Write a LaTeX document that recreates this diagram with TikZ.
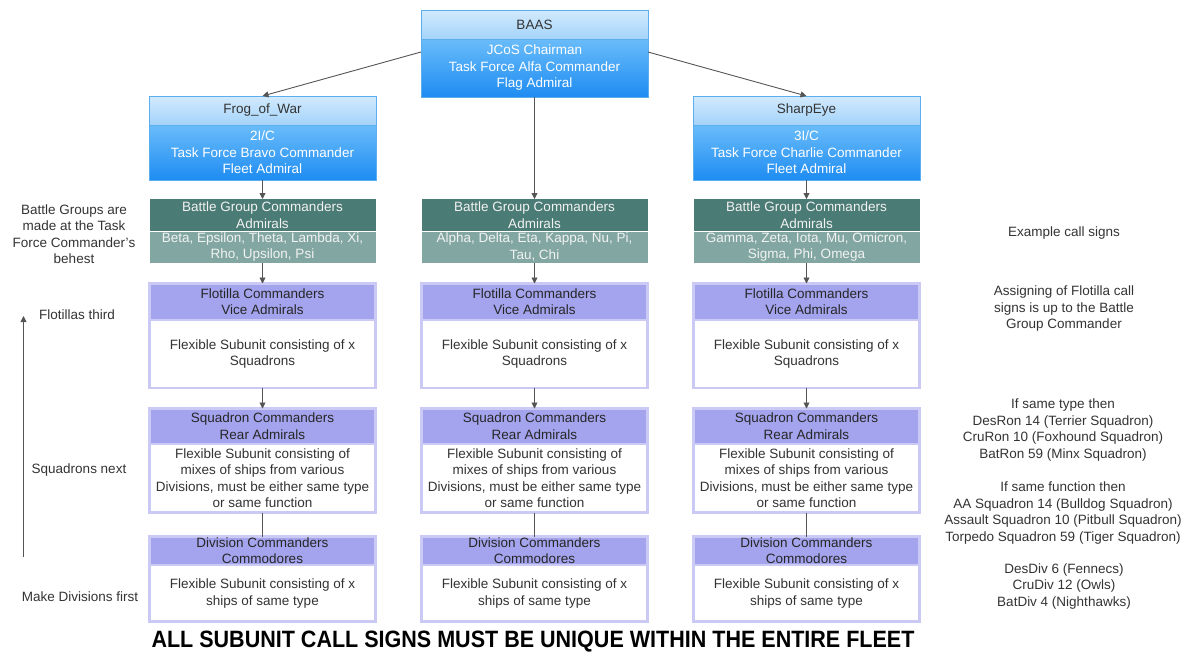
\documentclass[tikz,border=0pt]{standalone}
\usepackage{fontspec}
\setmainfont{Liberation Sans}
\usepackage{graphicx}
\usetikzlibrary{arrows.meta}
\definecolor{hdrtop}{HTML}{D2EAFD}
\definecolor{hdrbot}{HTML}{A4D3FA}
\definecolor{bodytop}{HTML}{6ABCFA}
\definecolor{bodybot}{HTML}{1E8CF2}
\definecolor{blueborder}{HTML}{5AAEEE}
\definecolor{bgdark}{HTML}{4B7B75}
\definecolor{bglight}{HTML}{82A7A2}
\definecolor{lavhdr}{HTML}{A4A4EE}
\definecolor{lavborder}{HTML}{CACAF4}
\definecolor{txt}{HTML}{333333}
\definecolor{arrowc}{HTML}{555555}
\begin{document}
\begin{tikzpicture}[x=1pt,y=-1pt,
  base/.style={inner sep=0pt, outer sep=0pt, align=center, anchor=north,
    font=\fontsize{13.5}{16.5}\selectfont},
  tophdr/.style={base, minimum width=227pt, minimum height=29pt,
    top color=hdrtop, bottom color=hdrbot, draw=blueborder, text=txt},
  topbody/.style={base, minimum width=227pt, top color=bodytop,
    bottom color=bodybot, draw=blueborder, text=white},
  bgd/.style={base, minimum width=226pt, minimum height=32pt, fill=bgdark, text=white!95!black},
  bgl/.style={base, minimum width=226pt, minimum height=32pt, fill=bglight, text=white!95!black},
  lavh/.style={base, minimum width=226pt, fill=lavhdr, draw=lavborder, line width=2.5pt, text=black!85},
  lavb/.style={base, minimum width=226pt, fill=white, draw=lavborder, line width=2.5pt, text=txt},
  note/.style={inner sep=0pt, align=center, text=txt, font=\fontsize{13.5}{16.5}\selectfont},
  arr/.style={draw=arrowc, line width=0.9pt, -{Triangle[length=6pt,width=6pt]}},
  plain/.style={draw=arrowc, line width=0.9pt}
]
\useasboundingbox (0,0) rectangle (1189,657);

% ---------- top level ----------
\node[topbody, minimum height=58pt] (baasb) at (534.5,39) {JCoS Chairman\\Task Force Alfa Commander\\Flag Admiral};
\node[tophdr] (baash) at (534.5,10) {BAAS};

\node[topbody, minimum height=55pt] (frogb) at (262.5,125) {2I/C\\Task Force Bravo Commander\\Fleet Admiral};
\node[tophdr] (frogh) at (262.5,96) {Frog\_of\_War};

\node[topbody, minimum height=55pt] (sharpb) at (806.5,125) {3I/C\\Task Force Charlie Commander\\Fleet Admiral};
\node[tophdr] (sharph) at (806.5,96) {SharpEye};

% ---------- battle groups ----------
\node[bgd] (bgd1) at (262.5,199) {Battle Group Commanders\\Admirals};
\node[bgl] (bgl1) at (262.5,231) {Beta, Epsilon, Theta, Lambda, Xi,\\Rho, Upsilon, Psi};
\node[bgd] (bgd2) at (534.5,199) {Battle Group Commanders\\Admirals};
\node[bgl] (bgl2) at (534.5,231) {Alpha, Delta, Eta, Kappa, Nu, Pi,\\Tau, Chi};
\node[bgd] (bgd3) at (806.5,199) {Battle Group Commanders\\Admirals};
\node[bgl] (bgl3) at (806.5,231) {Gamma, Zeta, Iota, Mu, Omicron,\\Sigma, Phi, Omega};
\draw[white, line width=0.8pt] (bgl1.north west) -- (bgl1.north east);
\draw[white, line width=0.8pt] (bgl2.north west) -- (bgl2.north east);
\draw[white, line width=0.8pt] (bgl3.north west) -- (bgl3.north east);

% ---------- flotilla / squadron / division ----------
\foreach \i/\c in {1/262.5, 2/534.5, 3/806.5}{
  \node[lavb, minimum height=68pt] (flob\i) at (\c,320) {Flexible Subunit consisting of x\\Squadrons};
  \node[lavh, minimum height=36.5pt] (floh\i) at (\c,283.5) {Flotilla Commanders\\Vice Admirals};
  \node[lavb, minimum height=68.5pt] (sqb\i) at (\c,444) {Flexible Subunit consisting of\\mixes of ships from various\\Divisions, must be either same type\\or same function};
  \node[lavh, minimum height=35.5pt] (sqh\i) at (\c,408.5) {Squadron Commanders\\Rear Admirals};
  \node[lavb, minimum height=56.5pt] (divb\i) at (\c,565) {Flexible Subunit consisting of x\\ships of same type};
  \node[lavh, minimum height=28.5pt, font=\fontsize{13.5}{15.5}\selectfont] (divh\i) at (\c,536.5) {Division Commanders\\Commodores};
  \draw[arr] (bgl\i.south) -- (floh\i.north);
  \draw[arr] (flob\i.south) -- (sqh\i.north);
  \draw[plain] (sqb\i.south) -- (divh\i.north);
}

% ---------- connectors ----------
\draw[arr] ([yshift=-13pt]baasb.north west) -- (frogh.north);
\draw[arr] ([yshift=-13pt]baasb.north east) -- (sharph.north);
\draw[arr] (baasb.south) -- (bgd2.north);
\draw[arr] (frogb.south) -- (bgd1.north);
\draw[arr] (sharpb.south) -- (bgd3.north);

% ---------- left notes ----------
\node[note] (nbg) at (74,234) {Battle Groups are\\made at the Task\\Force Commander's\\behest};
\node[note] (nflo) at (77,315) {Flotillas third};
\node[note] (nsq) at (79,470) {Squadrons next};
\node[note] (ndiv) at (80,597) {Make Divisions first};
\coordinate (lvs) at (23.5,557);
\coordinate (lve) at (23.5,316);
\draw[arr] (lvs) -- (lve);

% ---------- right notes ----------
\node[note] (nex) at (1064,233) {Example call signs};
\node[note] (nas) at (1064,309) {Assigning of Flotilla call\\signs is up to the Battle\\Group Commander};
\node[note] (nty) at (1063,430) {If same type then\\DesRon 14 (Terrier Squadron)\\CruRon 10 (Foxhound Squadron)\\BatRon 59 (Minx Squadron)};
\node[note] (nfu) at (1063,513) {If same function then\\AA Squadron 14 (Bulldog Squadron)\\Assault Squadron 10 (Pitbull Squadron)\\Torpedo Squadron 59 (Tiger Squadron)};
\node[note] (ndd) at (1064,586) {DesDiv 6 (Fennecs)\\CruDiv 12 (Owls)\\BatDiv 4 (Nighthawks)};

% ---------- bottom title ----------
\node[inner sep=0pt, text=black] (title) at (533,642) {\resizebox{763pt}{16.5pt}{\bfseries ALL SUBUNIT CALL SIGNS MUST BE UNIQUE WITHIN THE ENTIRE FLEET}};
\end{tikzpicture}
\end{document}
